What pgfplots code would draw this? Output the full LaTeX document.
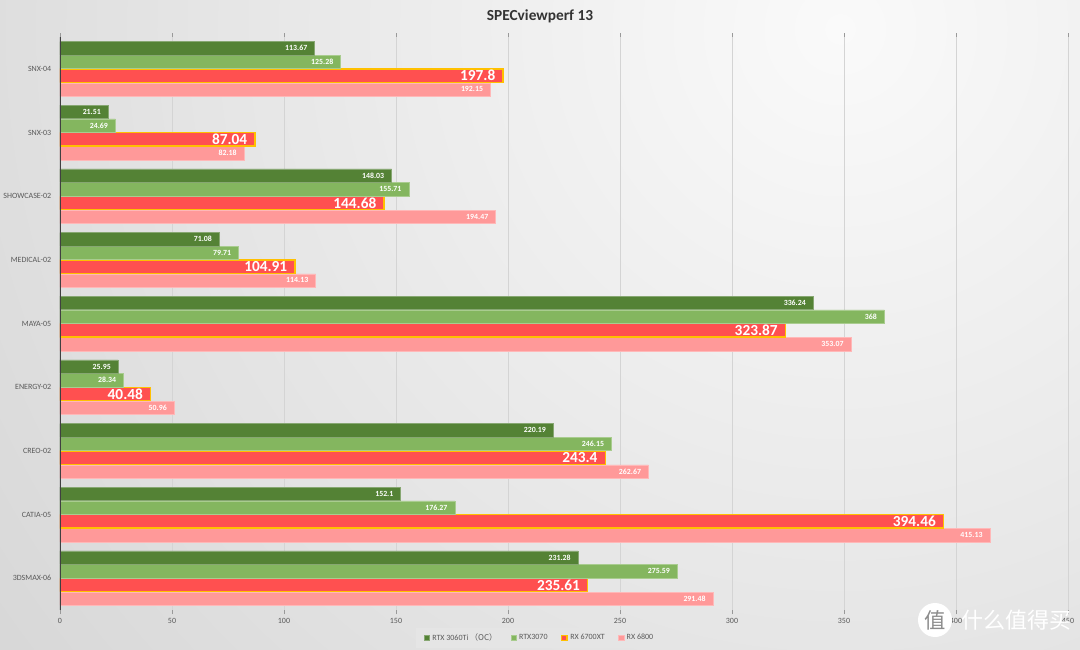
\documentclass[border=0pt]{standalone}
\usepackage{pgfplots}
\pgfplotsset{compat=1.18}
\usepackage{pgfplotstable}
\usepackage{fontspec}
\setmainfont{Carlito}
\newfontfamily\cjk{Noto Sans CJK SC}
\definecolor{cA}{HTML}{548235}
\definecolor{cB}{HTML}{84B65F}
\definecolor{cC}{HTML}{FF5050}
\definecolor{cD}{HTML}{FF9999}
\definecolor{cBorder}{HTML}{FFC000}
\definecolor{txt}{HTML}{595959}
\definecolor{bgout}{HTML}{C2C2C2}
\definecolor{bgin}{HTML}{FAFAFA}

\pgfplotstableread{
y v
0 113.67
1 21.51
2 148.03
3 71.08
4 336.24
5 25.95
6 220.19
7 152.1
8 231.28
}\tA
\pgfplotstableread{
y v
0 125.28
1 24.69
2 155.71
3 79.71
4 368
5 28.34
6 246.15
7 176.27
8 275.59
}\tB
\pgfplotstableread{
y v
0 197.8
1 87.04
2 144.68
3 104.91
4 323.87
5 40.48
6 243.4
7 394.46
8 235.61
}\tC
\pgfplotstableread{
y v
0 192.15
1 82.18
2 194.47
3 114.13
4 353.07
5 50.96
6 262.67
7 415.13
8 291.48
}\tD

\begin{document}
\begin{tikzpicture}[x=0.75pt,y=0.75pt]
% axis box south west corner is the origin; picture spans (-60,-39) to (1020,610)
\path[use as bounding box] (-60,-39) rectangle (1020,610);
\begin{scope}
\clip (-60,-39) rectangle (1020,610);
\shade[inner color=bgin, outer color=bgout] (780,581) circle (1700);
\end{scope}
\node[font=\bfseries\fontsize{11.5}{13}\selectfont, text=black!80] at (480,594) {SPECviewperf 13};
\begin{axis}[
  width=756pt, height=429.75pt, scale only axis,
  xbar=0.3pt, bar width=10pt,
  xmin=0, xmax=450, ymin=-0.5, ymax=8.5,
  y dir=reverse,
  ytick={0,...,8},
  yticklabels={SNX-04,SNX-03,SHOWCASE-02,MEDICAL-02,MAYA-05,ENERGY-02,CREO-02,CATIA-05,3DSMAX-06},
  xtick={0,50,...,450},
  /pgf/number format/assume math mode=true,
  ticklabel style={font=\fontsize{6}{7}\selectfont, text=txt},
  tick align=outside,
  major tick length=3pt,
  xtick style={draw=black!40, line width=0.5pt},
  ytick style={draw=none},
  axis line style={draw=none},
  xmajorgrids, grid style={black!17, line width=0.6pt},
  legend style={at={(0.476,-0.049)}, anchor=center, draw=none, fill=black!10,
    font=\fontsize{6}{7}\selectfont, text=txt, legend columns=4,
    /tikz/every even column/.append style={column sep=8pt},
    inner xsep=6pt, inner ysep=2pt},
  reverse legend,
  legend image code/.code={\draw[#1] (0pt,-2pt) rectangle (4pt,2pt);},
  every node near coord/.append style={anchor=east, text=white, font=\bfseries\fontsize{5.9}{7}\selectfont, xshift=-2pt},
]
\addplot[fill=cD, draw=cD!70!white, line width=0.4pt, nodes near coords] table[x=v,y=y]{\tD};
\addplot[fill=cC, draw=cBorder, line width=1pt, nodes near coords,
  every node near coord/.append style={font=\bfseries\fontsize{11.5}{13}\selectfont}] table[x=v,y=y]{\tC};
\addplot[fill=cB, draw=cB!70!white, line width=0.4pt, nodes near coords] table[x=v,y=y]{\tB};
\addplot[fill=cA, draw=cA!70!white, line width=0.4pt, nodes near coords] table[x=v,y=y]{\tA};
\legend{RX 6800,RX 6700XT,RTX3070,RTX 3060Ti {\cjk （OC）}}
\draw[black!75, line width=0.9pt] (axis cs:0,-0.5) -- (axis cs:0,8.5);
\end{axis}
\fill[white] (875,-10) circle (17);
\node[text=black!45, font=\cjk\fontsize{16}{18}\selectfont] at (875,-10) {值};
\node[text=white, font=\cjk\fontsize{16.5}{18}\selectfont] at (956,-10) {什么值得买};
\end{tikzpicture}
\end{document}
